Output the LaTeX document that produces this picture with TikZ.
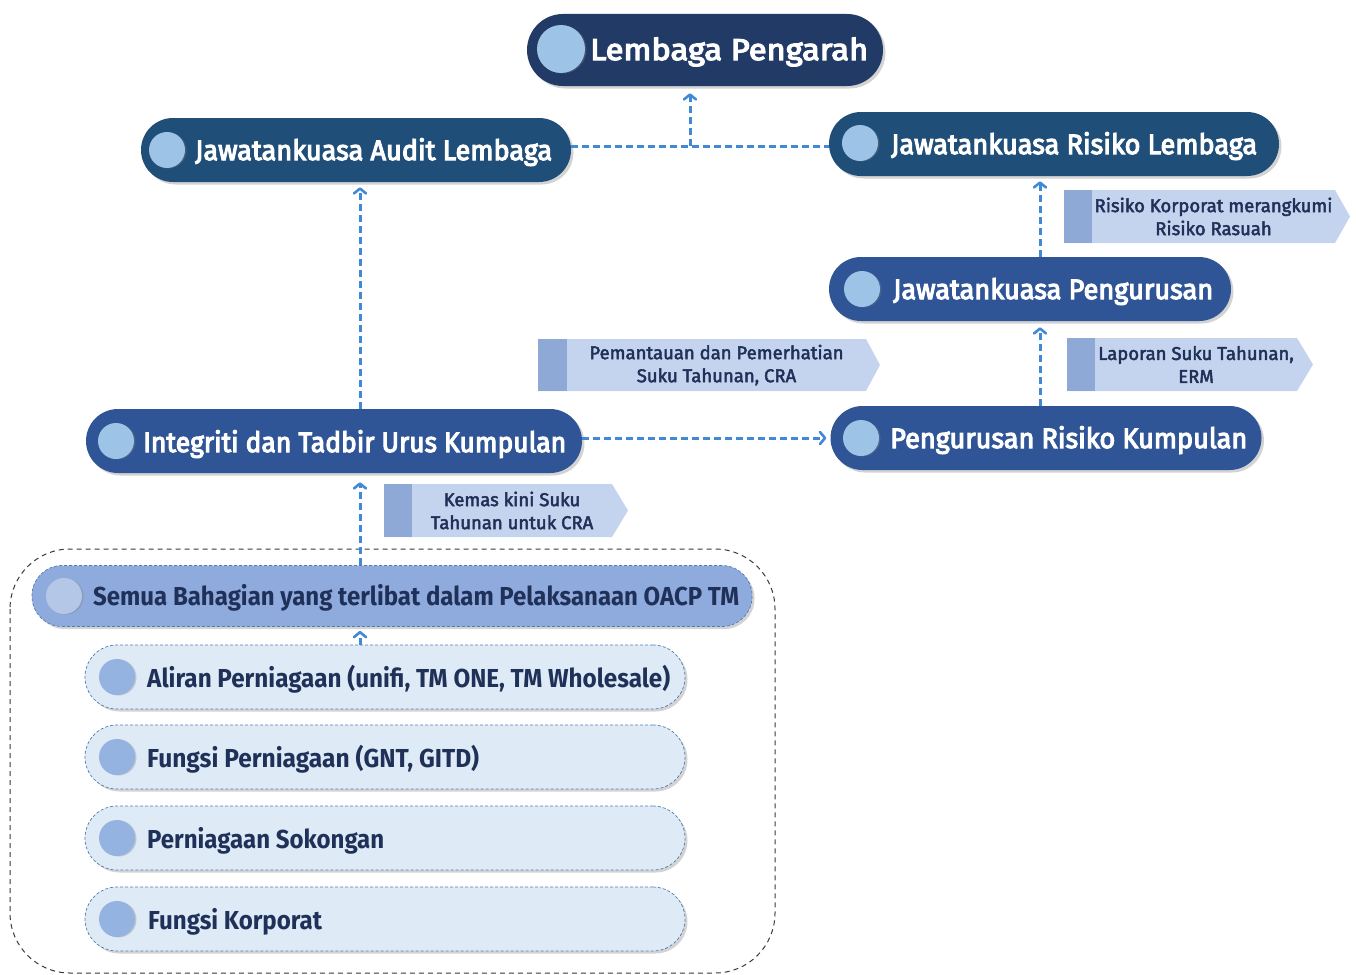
\documentclass[tikz,border=0pt]{standalone}
\usepackage{graphicx}
\usepackage{fontspec}
\setmainfont{Fira Sans}
\newfontfamily\medfont{Fira Sans}[FakeBold=4]
\newfontfamily\tagfont{Fira Sans}[FakeBold=2.5]
\usetikzlibrary{arrows.meta,shadows}
\definecolor{navy}{HTML}{213A66}
\definecolor{steel}{HTML}{1F4E79}
\definecolor{midblue}{HTML}{2F5597}
\definecolor{dotblue}{HTML}{9DC3E6}
\definecolor{semuafill}{HTML}{8FAADC}
\definecolor{semuadot}{HTML}{B4C7E7}
\definecolor{palefill}{HTML}{DEEBF7}
\definecolor{paledot}{HTML}{95B3E0}
\definecolor{tagbody}{HTML}{C5D4EE}
\definecolor{tagstrip}{HTML}{8FA9D6}
\definecolor{connblue}{HTML}{4189D6}
\definecolor{txtnavy}{HTML}{1F3158}
\definecolor{pillline}{HTML}{4F7FAF}
\newcommand\fitw[2]{\resizebox{#1}{\height}{#2}}
\newcommand\tagshape[7]{%
  \fill[tagbody] (#2,#6) -- (#4,#6) -- (#5,{(#6+#7)/2}) -- (#4,#7) -- (#2,#7) -- cycle;
  \fill[tagstrip] (#2,#6) rectangle (#3,#7);
  \coordinate (#1) at ({(#3+#4)/2},{(#6+#7)/2});}
\begin{document}
\begin{tikzpicture}[x=1pt,y=-1pt,
  pill/.style={inner sep=0pt, drop shadow={shadow xshift=2.5pt,shadow yshift=-2.5pt,opacity=0.35}},
  dot/.style={circle, inner sep=0pt, minimum size=#1, fill=dotblue, drop shadow={shadow xshift=1.5pt,shadow yshift=-0.5pt,opacity=0.35}},
  wtxt/.style={anchor=base west, inner sep=0pt, text=white, font=\medfont\fontsize{28}{30}\selectfont},
  ntxt/.style={anchor=base west, inner sep=0pt, text=txtnavy, font=\bfseries\fontsize{26}{28}\selectfont},
  tagtxt/.style={align=center, inner sep=0pt, text=txtnavy, font=\tagfont\fontsize{18.5}{23}\selectfont},
  conn/.style={draw=connblue, line width=3pt, dash pattern=on 7pt off 4pt},
  arr/.style={-{Straight Barb[length=5pt,width=12pt,line width=2.6pt,round]}},
  lowpill/.style={pill, fill=palefill, draw=pillline, line width=0.7pt, densely dashed, minimum width=600pt, minimum height=64pt, rounded corners=32pt}
]
\useasboundingbox (0,0) rectangle (1356,974);

% dashed frame
\draw[gray!45!black, line width=1pt, dash pattern=on 5pt off 4pt, rounded corners=60pt] (10,549) rectangle (775,973);

% tags
\tagshape{t1}{1064}{1092}{1335}{1350}{190}{243}
\node[tagtxt] (t1txt) at (t1) {Risiko Korporat merangkumi\\Risiko Rasuah};
\tagshape{t2}{538}{567}{866}{880}{339}{391}
\node[tagtxt] (t2txt) at (t2) {Pemantauan dan Pemerhatian\\Suku Tahunan, CRA};
\tagshape{t3}{1067}{1095}{1297}{1313}{338}{391}
\node[tagtxt] (t3txt) at (t3) {Laporan Suku Tahunan,\\ERM};
\tagshape{t4}{384}{412}{612}{628}{484}{537}
\node[tagtxt] (t4txt) at (t4) {Kemas kini Suku\\Tahunan untuk CRA};

% top pills
\node[pill, fill=navy, minimum width=356pt, minimum height=72pt, rounded corners=36pt] (lp) at (705,50) {};
\node[dot=48pt] (lpd) at (561,49) {};
\node[wtxt, font=\medfont\fontsize{30}{32}\selectfont] (lpt) at (590,60) {\fitw{278pt}{Lembaga Pengarah}};

\node[pill, fill=steel, minimum width=430pt, minimum height=64pt, rounded corners=32pt] (jal) at (356,150) {};
\node[dot=36pt] (jald) at (167,150) {};
\node[wtxt] (jalt) at (195,160) {\fitw{357pt}{Jawatankuasa Audit Lembaga}};

\node[pill, fill=steel, minimum width=450pt, minimum height=64pt, rounded corners=32pt] (jrl) at (1054,144) {};
\node[dot=36pt] (jrld) at (860,143) {};
\node[wtxt] (jrlt) at (891,154) {\fitw{366pt}{Jawatankuasa Risiko Lembaga}};

\node[pill, fill=midblue, minimum width=402pt, minimum height=64pt, rounded corners=32pt] (jp) at (1030,289) {};
\node[dot=36pt] (jpd) at (862,289) {};
\node[wtxt] (jpt) at (893,299) {\fitw{320pt}{Jawatankuasa Pengurusan}};

\node[pill, fill=midblue, minimum width=496pt, minimum height=64pt, rounded corners=32pt] (itu) at (334,441) {};
\node[dot=36pt] (itud) at (116,441) {};
\node[wtxt] (itut) at (143,452) {\fitw{423pt}{Integriti dan Tadbir Urus Kumpulan}};

\node[pill, fill=midblue, minimum width=431pt, minimum height=64pt, rounded corners=32pt] (prk) at (1046,438) {};
\node[dot=36pt] (prkd) at (861,438) {};
\node[wtxt] (prkt) at (890,448) {\fitw{357pt}{Pengurusan Risiko Kumpulan}};

% Semua Bahagian
\node[pill, fill=semuafill, draw=pillline, line width=0.7pt, densely dashed, minimum width=720pt, minimum height=61pt, rounded corners=30pt] (sb) at (392,596) {};
\node[dot=36pt, fill=semuadot] (sbd) at (64,596) {};
\node[ntxt] (sbt) at (93,605) {\fitw{646pt}{Semua Bahagian yang terlibat dalam Pelaksanaan OACP TM}};

% lower pills
\node[lowpill] (ap) at (385,677) {};
\node[dot=36pt, fill=paledot] (apd) at (117,677) {};
\node[ntxt] (apt) at (147,687) {\fitw{523pt}{Aliran Perniagaan (unifi, TM ONE, TM Wholesale)}};

\node[lowpill] (fp) at (385,757) {};
\node[dot=36pt, fill=paledot] (fpd) at (117,757) {};
\node[ntxt] (fpt) at (147,767) {\fitw{332pt}{Fungsi Perniagaan (GNT, GITD)}};

\node[lowpill] (ps) at (385,838) {};
\node[dot=36pt, fill=paledot] (psd) at (117,838) {};
\node[ntxt] (pst) at (147,848) {\fitw{237pt}{Perniagaan Sokongan}};

\node[lowpill] (fk) at (385,919) {};
\node[dot=36pt, fill=paledot] (fkd) at (117,919) {};
\node[ntxt] (fkt) at (148,929) {\fitw{174pt}{Fungsi Korporat}};

% connectors
\coordinate (hj) at (690,146);
\coordinate (vr) at (1040,0);
\coordinate (vl) at (360,0);
\draw[conn] (jal.east |- hj) -- (jrl.west |- hj);
\draw[conn, arr, shorten >=7pt] (hj) -- (lp.south -| hj);
\draw[conn, arr, shorten >=5pt] (jp.north -| vr) -- (jrl.south -| vr);
\draw[conn, arr, shorten >=6pt] (prk.north -| vr) -- (jp.south -| vr);
\draw[conn, arr, shorten >=4pt] (itu.east |- prk) -- (prk.west);
\draw[conn, arr, shorten >=5pt] (itu.north -| vl) -- (jal.south -| vl);
\draw[conn, arr, shorten >=9pt] (sb.north -| vl) -- (itu.south -| vl);
\draw[conn, arr, shorten >=4pt] (ap.north -| vl) -- (sb.south -| vl);
\end{tikzpicture}
\end{document}
